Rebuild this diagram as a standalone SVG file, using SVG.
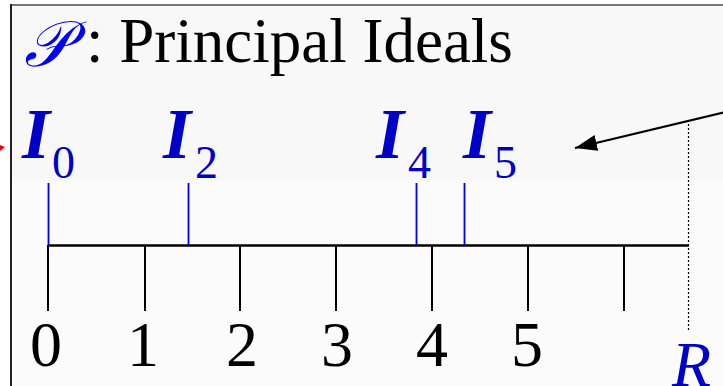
<svg xmlns="http://www.w3.org/2000/svg" width="723" height="386" viewBox="0 0 723 386">
  <style>
    .serif { font-family: "Liberation Serif", "Times New Roman", serif; }
    .title { font-size: 63px; fill: #000; }
    .num { font-size: 64px; fill: #000; text-anchor: middle; }
    .ilab { font-size: 72px; font-weight: bold; font-style: italic; fill: #0000c8; }
    .isub { font-size: 46px; fill: #0000c8; }
    .axis { stroke: #000; stroke-width: 2.6; fill: none; }
    .tick { stroke: #000; stroke-width: 2; fill: none; }
    .btick { stroke: #0000e0; stroke-width: 1.8; fill: none; }
    .dot { stroke: #000; stroke-width: 1.2; stroke-dasharray: 2 2; fill: none; }
    .arrow { stroke: #000; stroke-width: 2.2; fill: none; }
  </style>
  <defs>
    <marker id="ah" markerUnits="userSpaceOnUse" markerWidth="24" markerHeight="18" refX="22" refY="9" orient="auto">
      <polygon points="0,1 22,9 0,17" fill="#000"/>
    </marker>
  </defs>

  <rect x="0" y="0" width="723" height="386" fill="#ffffff"/>
  <rect x="11" y="5" width="712" height="381" fill="#f8f8f8"/>
  <rect x="11" y="180" width="712" height="206" fill="#fbfbfb"/>
  <line x1="10" y1="5" x2="723" y2="5" stroke="#777" stroke-width="2"/>
  <line x1="11" y1="4" x2="11" y2="386" stroke="#222" stroke-width="2"/>
  <polygon points="0,145 5,147 0,151" fill="#ee0000"/>

  <g id="title">
    <text x="24" y="66" font-size="64" font-style="italic" fill="#0000ff" font-family="'DejaVu Serif', 'Liberation Serif', serif">𝒫</text>
    <text class="serif title" x="86" y="62">: Principal Ideals</text>
  </g>

  <g id="connectors">
    <line class="axis" x1="48" y1="245.5" x2="689" y2="245.5"/>
    <line class="dot" x1="688.5" y1="120" x2="688.5" y2="330"/>
    <line class="arrow" x1="730" y1="111" x2="575" y2="148" marker-end="url(#ah)"/>
  </g>

  <g id="ticks">
    <line class="tick" x1="48" y1="245" x2="48" y2="311"/>
    <line class="tick" x1="145" y1="245" x2="145" y2="311"/>
    <line class="tick" x1="240" y1="245" x2="240" y2="311"/>
    <line class="tick" x1="336" y1="245" x2="336" y2="311"/>
    <line class="tick" x1="432" y1="245" x2="432" y2="311"/>
    <line class="tick" x1="528" y1="245" x2="528" y2="311"/>
    <line class="tick" x1="624" y1="245" x2="624" y2="311"/>
  </g>

  <g id="numbers">
    <text class="serif num" x="46" y="366">0</text>
    <text class="serif num" x="143" y="366">1</text>
    <text class="serif num" x="242" y="366">2</text>
    <text class="serif num" x="337" y="366">3</text>
    <text class="serif num" x="432" y="366">4</text>
    <text class="serif num" x="527" y="366">5</text>
  </g>

  <g id="I0">
    <line class="btick" x1="48.5" y1="183" x2="48.5" y2="245"/>
    <text class="serif ilab" x="22" y="158">I</text>
    <text class="serif isub" x="52" y="178">0</text>
  </g>
  <g id="I2">
    <line class="btick" x1="188.5" y1="183" x2="188.5" y2="245"/>
    <text class="serif ilab" x="163" y="158">I</text>
    <text class="serif isub" x="195" y="178">2</text>
  </g>
  <g id="I4">
    <line class="btick" x1="416.5" y1="183" x2="416.5" y2="245"/>
    <text class="serif ilab" x="376" y="158">I</text>
    <text class="serif isub" x="408" y="178">4</text>
  </g>
  <g id="I5">
    <line class="btick" x1="464.5" y1="183" x2="464.5" y2="245"/>
    <text class="serif ilab" x="463" y="158">I</text>
    <text class="serif isub" x="494" y="178">5</text>
  </g>

  <g id="R">
    <text class="serif" x="672" y="386" font-size="64" font-style="italic" fill="#0000c8">R</text>
  </g>
</svg>
